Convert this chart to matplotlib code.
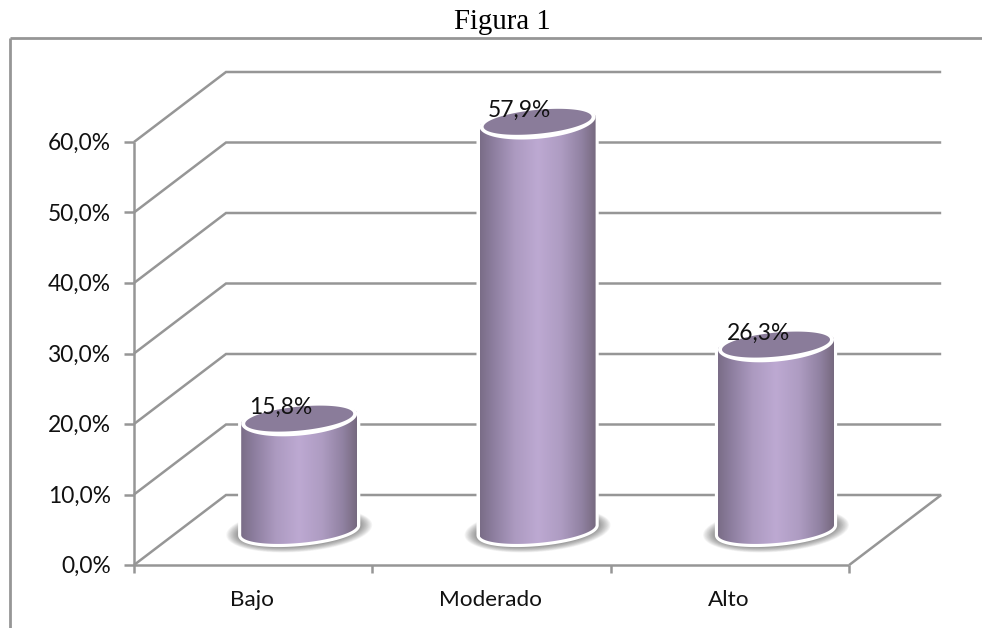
import numpy as np
import matplotlib
matplotlib.use("Agg")
from matplotlib import pyplot as plt
from matplotlib.colors import LinearSegmentedColormap
from matplotlib.patches import Polygon

# Chart values
categories = ['Bajo', 'Moderado', 'Alto']
values = [15.8, 57.9, 26.3]
value_labels = ['15,8%', '57,9%', '26,3%']
tick_values = [0, 10, 20, 30, 40, 50, 60]
tick_labels = ['0,0%', '10,0%', '20,0%', '30,0%', '40,0%', '50,0%', '60,0%']

# Scale of the plot, pixels per category and per percent point
cat_px = 238.4
pct_px = 7.05
left_px = 134
base_px = 63

# Depth of the 3D box, in data units
depth_x = 92 / cat_px
depth_y = 70 / pct_px

line_color = '#969696'
side_cmap = LinearSegmentedColormap.from_list(
    'side', [(0, '#7a6d87'), (0.12, '#8e7fa0'), (0.3, '#ac9ac0'), (0.5, '#bda9d2'),
             (0.7, '#ae9cc2'), (0.88, '#9182a2'), (1, '#76697f')])

fig = plt.figure(figsize=(9.82, 6.28), dpi=100)
ax = fig.add_axes([0, 0, 1, 1])
ax.set_xlim(-left_px / cat_px, (982 - left_px) / cat_px)
ax.set_ylim(-base_px / pct_px, (628 - base_px) / pct_px)
ax.axis('off')


def line(xs, ys, lw=1.8, color=line_color, z=1):
    ax.plot(xs, ys, color=color, lw=lw, solid_capstyle='butt', solid_joinstyle='miter', zorder=z)


def ellipse(cx, cy, a, b, tilt=5.0, start=0.0, stop=2 * np.pi):
    # Tilted ellipse, sizes given in pixels
    t = np.linspace(start, stop, 160)
    xs = cx + a * np.cos(t) / cat_px
    ys = cy + (b * np.sin(t) + tilt * np.cos(t)) / pct_px
    return np.column_stack([xs, ys])


# Outer frame of the chart
frame_x = (10 - left_px) / cat_px
frame_top = (628 - base_px - 38) / pct_px
line([frame_x, frame_x], [-base_px / pct_px, frame_top], lw=2)
line([frame_x, (982 - left_px) / cat_px], [frame_top, frame_top], lw=2)

# Back wall and side wall grid
n_cats = len(categories)
for v in tick_values:
    line([0, depth_x, n_cats + depth_x], [v, v + depth_y, v + depth_y])
    line([-10 / cat_px, 0], [v, v])

# Axis lines, ticks and floor
line([0, 0], [0, max(tick_values)])
line([0, n_cats], [0, 0])
line([n_cats, n_cats + depth_x], [0, depth_y])
for i in range(n_cats + 1):
    line([i, i], [0, -8 / pct_px])

# Cylinders
for i, v in enumerate(values):
    cx = i + 0.5 + depth_x / 2
    y0 = depth_y / 2
    y1 = y0 + v

    # Soft shadow on the floor
    steps = 20
    for k in range(steps):
        f = 1 - k / steps
        pts = ellipse(cx, y0, 56 + 17 * f, 14 + 8 * f)
        ax.add_patch(Polygon(pts, closed=True, fc='#3a3a3a', ec='none', alpha=0.045, zorder=2))

    # White rim around the body
    low = ellipse(cx, y0, 58, 13, start=np.pi, stop=2 * np.pi)
    up = ellipse(cx, y1, 58, 13, start=0, stop=np.pi)
    body = np.vstack([low, up])
    ax.add_patch(Polygon(body, closed=True, fc='white', ec='white', lw=4.5, zorder=3))

    # Shaded side of the cylinder
    patch = Polygon(body, closed=True, fc='none', ec='none', zorder=4)
    ax.add_patch(patch)
    img = ax.imshow(np.linspace(0, 1, 256).reshape(1, -1), cmap=side_cmap, aspect='auto',
                    extent=[cx - 58 / cat_px, cx + 58 / cat_px, y0 - 20 / pct_px, y1 + 20 / pct_px],
                    zorder=4, interpolation='bilinear')
    img.set_clip_path(patch)

    # Top face with its white edge
    ax.add_patch(Polygon(ellipse(cx, y1, 58, 17), closed=True, fc='white', ec='none', zorder=5))
    ax.add_patch(Polygon(ellipse(cx, y1, 54, 12), closed=True, fc='#8a7c9a', ec='none', zorder=6))

    ax.text(cx - 18 / cat_px, y1 + 11 / pct_px, value_labels[i], ha='center', va='center',
            fontsize=16.4, family='Lato', color='#111111', zorder=7)

    ax.text(i + 0.5 - 1 / cat_px, -35 / pct_px, categories[i], ha='center', va='center',
            fontsize=16.2, family='Lato', color='#111111')

# Value axis labels
for v, lab in zip(tick_values, tick_labels):
    ax.text(-23 / cat_px, v - 1.5 / pct_px, lab, ha='right', va='center',
            fontsize=16.4, family='Lato', color='#111111')

ax.set_xlim(-left_px / cat_px, (982 - left_px) / cat_px)
ax.set_ylim(-base_px / pct_px, (628 - base_px) / pct_px)

fig.text(502 / 982, 1 - 22 / 628, 'Figura 1', ha='center', va='center',
         fontsize=20.8, family='Liberation Serif', color='black')

fig.savefig('out.png', dpi=100)
